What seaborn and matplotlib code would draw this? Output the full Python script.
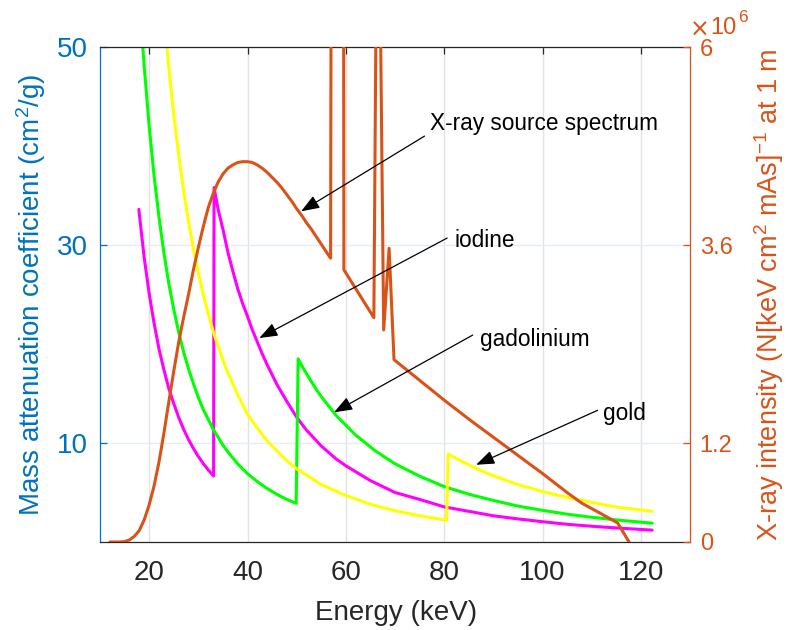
import numpy as np
import pandas as pd
import matplotlib
matplotlib.use('Agg')
import matplotlib.pyplot as plt
import seaborn as sns

# ---------------- data ----------------
# mass attenuation coefficient (cm^2/g) vs energy (keV)
iodine_e = [17.9, 18, 19, 20, 21, 22, 23, 24, 25, 26, 27, 28, 29, 30, 31, 32, 33.1,
            33.2, 34, 35, 36, 37, 38, 39, 40, 41, 42, 43, 44, 45, 46, 48, 50, 52, 55,
            58, 60, 65, 70, 75, 80, 85, 90, 95, 100, 105, 110, 115, 122.3]
iodine_mu = [33.6, 33.1, 28.7, 25.1, 22.1, 19.5, 17.4, 15.5, 14.0, 12.6, 11.4, 10.35,
             9.45, 8.64, 7.93, 7.29, 6.67,
             35.8, 33.65, 31.6, 29.3, 27.4, 25.6, 24.1, 22.8, 21.4, 20.2, 19.0, 17.9,
             16.9, 15.9, 14.2, 12.6, 11.3, 9.7, 8.4, 7.7, 6.2, 5.0, 4.3, 3.55, 3.1,
             2.65, 2.33, 2.05, 1.79, 1.59, 1.42, 1.2]

gadolinium_e = [18.5, 19, 20, 21, 22, 23, 24, 25, 26, 27, 28, 29, 30, 31, 32, 33, 34,
                35, 36, 38, 40, 42, 44, 46, 48, 49.9,
                50.3, 51, 52, 53, 54, 55, 56, 58, 60, 62, 64, 66, 68, 70, 75, 80, 85,
                90, 95, 100, 105, 110, 115, 122.3]
gadolinium_mu = [51.4, 48.0, 42.0, 37.0, 32.8, 29.2, 26.1, 23.5, 21.2, 19.2, 17.5,
                 16.0, 14.6, 13.4, 12.4, 11.4, 10.6, 9.8, 9.1, 7.9, 6.9, 6.1, 5.4, 4.8,
                 4.3, 3.9,
                 18.5, 17.85, 17.0, 16.2, 15.4, 14.7, 14.06, 12.8, 11.8, 10.8, 10.0,
                 9.2, 8.55, 7.9, 6.65, 5.6, 4.83, 4.2, 3.63, 3.2, 2.81, 2.5, 2.23, 1.9]

gold_e = [23.6, 24, 25, 26, 27, 28, 29, 30, 31, 32, 33, 34, 35, 36, 37, 38, 40, 42,
          44, 46, 48, 50, 55, 60, 65, 70, 75, 80.5,
          80.8, 82, 84, 86, 88, 90, 95, 100, 105, 110, 115, 122.3]
gold_mu = [50, 47.9, 43.2, 39.1, 35.5, 32.4, 29.6, 27.2, 25.0, 23.1, 21.3, 19.8, 18.4,
           17.1, 16.0, 14.9, 12.9, 11.5, 10.2, 9.2, 8.2, 7.4, 5.8, 4.7, 3.81, 3.16,
           2.65, 2.2,
           8.9, 8.56, 8.04, 7.56, 7.1, 6.7, 5.8, 5.1, 4.5, 4.0, 3.53, 3.1]

# x-ray source spectrum, in units of 1e6
spec_e = [12, 14, 15, 16, 17, 18, 19, 20, 21, 22, 23, 24, 25, 26, 27, 28, 29, 30, 31,
          32, 33, 34, 35, 36, 37, 38, 39, 40, 41, 42, 43, 44, 45, 46, 47, 48, 49, 50,
          51, 52, 53, 54, 55, 56, 56.9, 57.1, 59.5, 59.6, 65.7, 66.5, 67.7, 68.8,
          69.8, 75, 80, 85, 90, 95, 100, 105, 108, 112, 115.3, 117.6]
spec_val = [0, 0, 0.005, 0.025, 0.07, 0.14, 0.27, 0.45, 0.68, 0.97, 1.32, 1.7, 2.07,
            2.42, 2.72, 3.0, 3.3, 3.57, 3.82, 4.05, 4.22, 4.36, 4.46, 4.53, 4.57, 4.6,
            4.61, 4.61, 4.6, 4.57, 4.53, 4.48, 4.42, 4.36, 4.29, 4.21, 4.13, 4.04,
            3.96, 3.87, 3.79, 3.7, 3.61, 3.52, 3.44, 10, 10, 3.3, 2.72, 9.4, 2.57,
            3.56, 2.21, 1.96, 1.72, 1.49, 1.27, 1.05, 0.83, 0.6, 0.47, 0.34, 0.23, 0]

x_ticks = [20, 40, 60, 80, 100, 120]
left_ticks = [10, 30, 50]
right_ticks = [0, 1.2, 3.6, 6]
right_labels = ['0', '1.2', '3.6', '6']

# annotations: label, text pos, arrow tail, arrow tip (left-axis data coords)
notes = [
    ('X-ray source spectrum', (77.2, 41.6), (76.0, 41.0), (50.9, 33.4)),
    ('iodine', (82.1, 29.8), (80.6, 30.7), (42.4, 20.6)),
    ('gadolinium', (87.3, 19.8), (85.8, 20.9), (57.6, 13.1)),
    ('gold', (112.4, 12.3), (111.2, 13.3), (86.5, 7.8)),
]

blue = '#0072BD'
orange = '#D95319'
dark = '#262626'

sns.set_style('white')
plt.rcParams['font.family'] = ['Liberation Sans', 'DejaVu Sans']
plt.rcParams['mathtext.fontset'] = 'custom'
plt.rcParams['mathtext.rm'] = 'Liberation Sans'
plt.rcParams['mathtext.it'] = 'Liberation Sans:italic'

fig, ax = plt.subplots(figsize=(7.87, 6.30), dpi=100)
fig.subplots_adjust(left=100/787, right=690/787, bottom=1-542/630, top=1-47/630)

for e, mu, c in [(iodine_e, iodine_mu, '#FF00FF'),
                 (gadolinium_e, gadolinium_mu, '#00FF00'),
                 (gold_e, gold_mu, '#FFFF00')]:
    df = pd.DataFrame({'E': e, 'mu': mu})
    sns.lineplot(data=df, x='E', y='mu', ax=ax, color=c, lw=2.2,
                 estimator=None, sort=False)

ax2 = ax.twinx()
sdf = pd.DataFrame({'E': spec_e, 'I': spec_val})
sns.lineplot(data=sdf, x='E', y='I', ax=ax2, color=orange, lw=2.2,
             estimator=None, sort=False)

ax.set_xlim(10, 130)
ax.set_ylim(0, 50)
ax.set_xticks(x_ticks)
ax.set_yticks(left_ticks)
ax2.set_ylim(0, 6)
ax2.set_yticks(right_ticks)
ax2.set_yticklabels(right_labels)

# grid
ax.set_axisbelow(True)
ax.xaxis.grid(True, color='#e2e2e2', lw=1)
ax.yaxis.grid(True, color='#e3edf7', lw=1)
ax2.grid(False)

# spines
ax.spines['left'].set_color(blue)
ax.spines['right'].set_visible(False)
ax.spines['top'].set_color(dark)
ax.spines['bottom'].set_color(dark)
for s in ['left', 'top', 'bottom']:
    ax2.spines[s].set_visible(False)
ax2.spines['right'].set_color(orange)
for sp in list(ax.spines.values()) + [ax2.spines['right']]:
    sp.set_linewidth(0.9)

ax.tick_params(axis='x', direction='in', top=True, length=5, width=0.9,
               labelsize=20, colors=dark, pad=13)
ax.tick_params(axis='y', direction='in', length=5, width=0.9,
               labelsize=20, colors=blue, pad=9)
ax2.tick_params(axis='y', direction='in', length=5, width=0.9,
                labelsize=17, colors=orange, pad=7)

ax.set_xlabel('Energy (keV)', fontsize=20, color=dark)
ax.xaxis.set_label_coords(0.501, -0.117)
ax.set_ylabel('Mass attenuation coefficient (cm$^2$/g)', fontsize=20, color=blue)
ax.yaxis.set_label_coords(-0.088, 0.5)
ax2.set_ylabel('X-ray intensity (N[keV cm$^2$ mAs]$^{-1}$ at 1 m', fontsize=19.5,
               color=orange)
ax2.yaxis.set_label_coords(1.105, 0.5)

# exponent label of the right axis: x10^6
ax2.text(1.0, 1.021, '\u00d7', transform=ax2.transAxes, color=orange,
         fontsize=17, ha='left', va='baseline', family='DejaVu Sans')
ax2.text(1.035, 1.027, '10', transform=ax2.transAxes, color=orange,
         fontsize=17, ha='left', va='baseline')
ax2.text(1.081, 1.05, '6', transform=ax2.transAxes, color=orange,
         fontsize=12.5, ha='left', va='baseline')

for label, tpos, tail, tip in notes:
    ax2.annotate('', xy=tip, xycoords=ax.transData, xytext=tail,
                 textcoords=ax.transData, zorder=10,
                 arrowprops=dict(arrowstyle='-|>,head_length=0.8,head_width=0.3',
                                 color='black', lw=0.9, mutation_scale=14,
                                 shrinkA=0, shrinkB=0))
    ax2.text(tpos[0], tpos[1], label, transform=ax.transData, fontsize=16.3,
             color='black', ha='left', va='baseline', zorder=10)

fig.savefig('out.png', dpi=100)
